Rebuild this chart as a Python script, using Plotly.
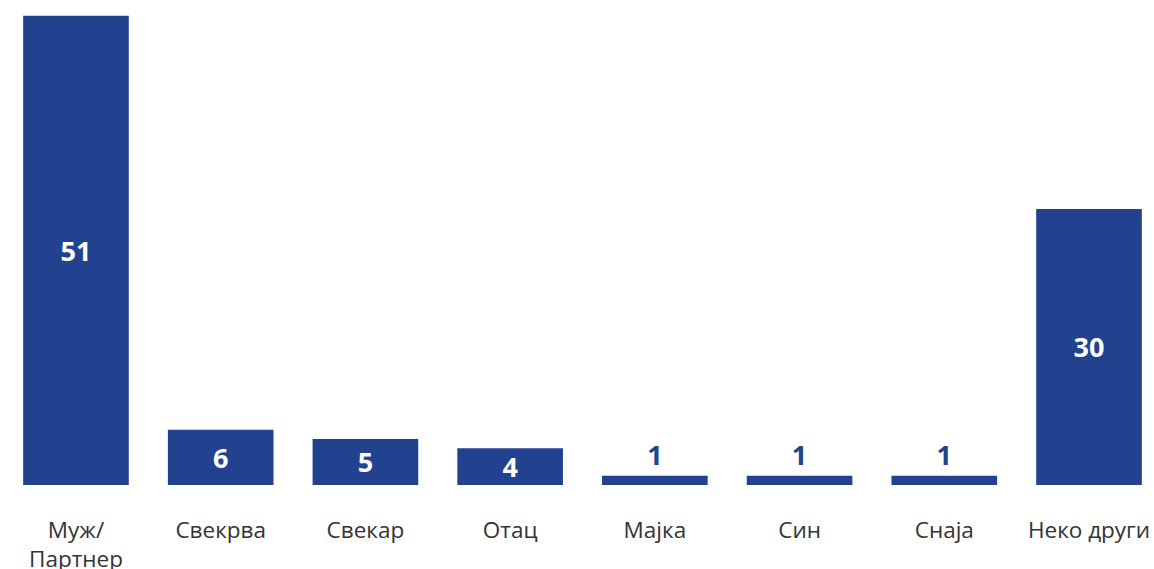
import plotly.graph_objects as go

categories = ["Муж/<br>Партнер", "Свекрва", "Свекар", "Отац", "Мајка", "Син", "Снаја", "Неко други"]
values = [51, 6, 5, 4, 1, 1, 1, 30]

BLUE = "#22428F"
positions = ["inside" if v >= 3 else "outside" for v in values]
text_colors = ["#FFFFFF" if v >= 3 else BLUE for v in values]

fig = go.Figure(go.Bar(
    x=categories,
    y=values,
    width=0.73,
    marker=dict(color=BLUE, line=dict(width=0)),
    text=[str(v) for v in values],
    textposition=positions,
    insidetextanchor="middle",
    constraintext="none",
    textangle=0,
    textfont=dict(family="Open Sans", size=27, color=text_colors, weight="bold"),
    cliponaxis=False,
    hoverinfo="skip",
))

fig.update_layout(
    width=1154, height=569,
    margin=dict(l=0, r=0, t=0, b=84, autoexpand=False),
    paper_bgcolor="white", plot_bgcolor="white",
    showlegend=False,
    uniformtext=dict(mode=False),
    xaxis=dict(
        range=[-0.525, 7.449],
        automargin=False,
        showgrid=False, zeroline=False, showline=False,
        ticks="", ticklabelstandoff=29,
        tickfont=dict(family="Open Sans", size=22.5, color="#333333"),
    ),
    yaxis=dict(
        range=[0, 52.7],
        visible=False, automargin=False,
        showgrid=False, zeroline=False,
    ),
)

fig.write_html(
    "out.html",
    config={"displayModeBar": False, "staticPlot": True},
    post_script="document.body.style.margin='0';document.body.style.overflow='hidden';",
)
